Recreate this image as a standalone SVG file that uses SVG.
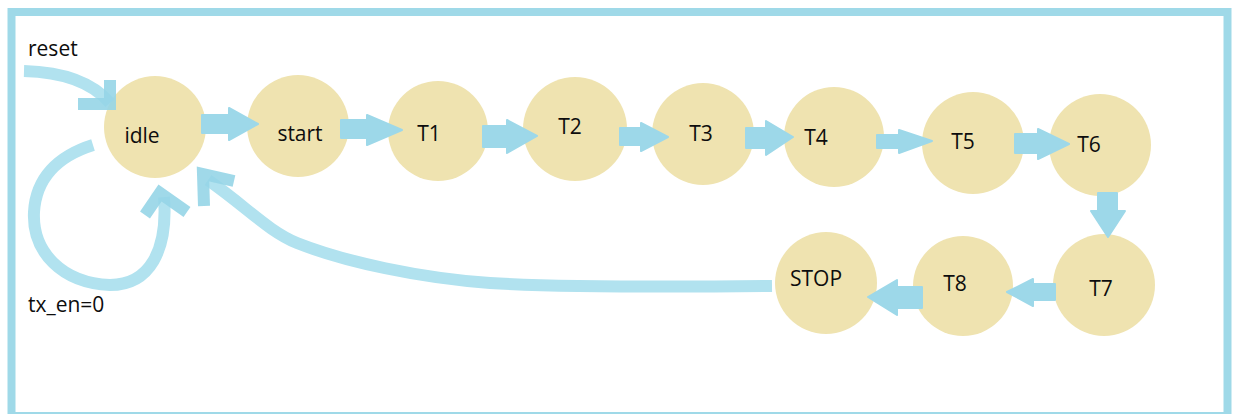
<svg xmlns="http://www.w3.org/2000/svg" width="1234" height="414" viewBox="0 0 1234 414">
  <style>
    .state { fill: #efe3b0; }
    .lbl { font-family: "Open Sans", "Noto Sans", "Liberation Sans", sans-serif; font-size: 21px; fill: #0d0d0d; text-anchor: middle; }
    .note { font-family: "Open Sans", "Noto Sans", "Liberation Sans", sans-serif; font-size: 21px; fill: #0d0d0d; }
    .blk { fill: #9dd8e9; stroke: #9dd8e9; stroke-width: 2; stroke-linejoin: round; }
    .hand { fill: none; stroke: #b1e2ef; stroke-width: 12; stroke-linejoin: round; stroke-linecap: butt; }
    .hhead { fill: none; stroke: #96d5e7; stroke-width: 12; stroke-linejoin: miter; opacity: 0.9; }
  </style>

  <rect x="0" y="0" width="1234" height="414" fill="#ffffff"/>
  <!-- outer frame -->
  <rect x="11.5" y="12" width="1216" height="404" fill="none" stroke="#9fd9e8" stroke-width="8"/>

  <!-- states -->
  <g id="idle"><circle class="state" cx="155" cy="127" r="51"/><text class="lbl" x="142" y="143">idle</text></g>
  <g id="start"><circle class="state" cx="298" cy="126" r="51"/><text class="lbl" x="300" y="141">start</text></g>
  <g id="T1"><circle class="state" cx="438" cy="131" r="50"/><text class="lbl" x="429" y="141">T1</text></g>
  <g id="T2"><circle class="state" cx="575" cy="129" r="52"/><text class="lbl" x="570" y="134">T2</text></g>
  <g id="T3"><circle class="state" cx="703" cy="134" r="51"/><text class="lbl" x="701" y="141">T3</text></g>
  <g id="T4"><circle class="state" cx="834" cy="137" r="50"/><text class="lbl" x="816" y="145">T4</text></g>
  <g id="T5"><circle class="state" cx="973" cy="143" r="51"/><text class="lbl" x="963" y="149">T5</text></g>
  <g id="T6"><circle class="state" cx="1100" cy="145" r="51"/><text class="lbl" x="1089" y="152">T6</text></g>
  <g id="T7"><circle class="state" cx="1104" cy="285" r="51"/><text class="lbl" x="1101" y="296">T7</text></g>
  <g id="T8"><circle class="state" cx="963" cy="286" r="50"/><text class="lbl" x="955" y="291">T8</text></g>
  <g id="STOP"><circle class="state" cx="826" cy="283" r="51"/><text class="lbl" x="816" y="286">STOP</text></g>

  <!-- free labels -->
  <g id="labels">
    <text class="note" x="28" y="56">reset</text>
    <text class="note" x="28" y="312">tx_en=0</text>
  </g>

  <g id="connectors">
    <!-- block arrows between successive states -->
    <path class="blk" d="M202,115 H229 V108 L258,124 L229,140 V133 H202 Z"/>
    <path class="blk" d="M341,120 H367 V115 L402,130 L367,145 V138 H341 Z"/>
    <path class="blk" d="M483,126 H507 V120 L537,136 L507,153 V147 H483 Z"/>
    <path class="blk" d="M620,128 H641 V123 L668,137 L641,151 V145 H620 Z"/>
    <path class="blk" d="M746,128 H766 V121 L793,137 L766,155 V148 H746 Z"/>
    <path class="blk" d="M877,135 H899 V130 L932,141 L899,153 V148 H877 Z"/>
    <path class="blk" d="M1015,134 H1038 V129 L1069,144 L1038,159 V153 H1015 Z"/>
    <path class="blk" d="M1098,193 V211 H1091 L1108,237 L1125,211 H1117 V193 Z"/>
    <path class="blk" d="M1055,284 H1033 V279 L1007,292 L1033,306 V300 H1055 Z"/>
    <path class="blk" d="M922,287 H897 V280 L868,297 L897,315 V308 H922 Z"/>

    <!-- reset entry -->
    <path class="hand" d="M24,71 C62,72 92,82 110,103"/>
    <polyline class="hhead" points="110,80 110,104 78,104"/>

    <!-- tx_en=0 self loop -->
    <path class="hand" d="M93,145 C58,156 36,178 34,212 C32,252 62,283 110,285 C150,285 168,250 164,197"/>
    <polyline class="hhead" points="145,215 160,193 187,212"/>

    <!-- STOP back to idle -->
    <path class="hand" d="M772,286 C680,287 560,287 490,283 C420,278 345,262 297,243 C268,231 248,208 208,180"/>
    <polyline class="hhead" points="204,206 203,174 234,181"/>
  </g>
</svg>
